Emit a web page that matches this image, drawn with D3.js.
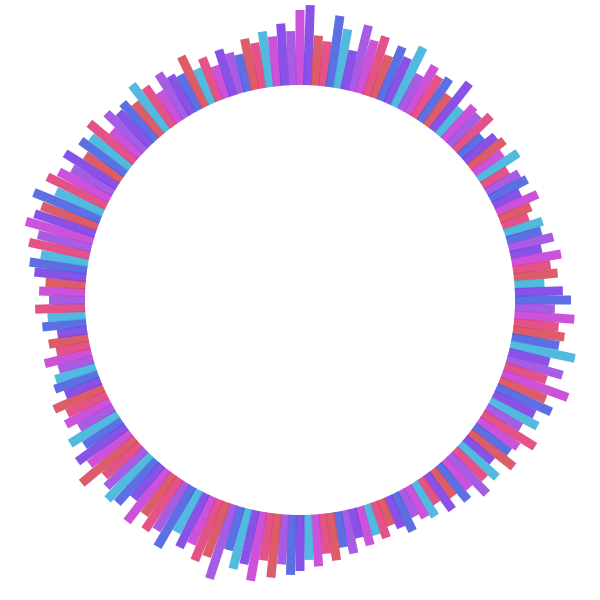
<!DOCTYPE html>
<html>
<head>
<script src="https://cdn.jsdelivr.net/npm/d3@7"></script>
<style>body{margin:0;background:#fff}</style>
</head>
<body>
<div id="chart"></div>
<script>
// bar lengths (px beyond inner circle), clockwise from 12 o'clock
var lengths = [75,80,50,45,72,60,40,68,55,62,45,58,50,66,40,55,48,52,38,60,
  35,45,42,50,30,40,44,35,48,30,38,42,30,45,34,28,40,36,46,32,
  50,38,44,30,48,56,40,60,45,52,48,66,42,58,44,70,50,60,46,54,
  40,62,48,44,56,36,50,42,54,38,46,34,44,30,40,36,30,42,34,28,
  38,32,40,30,44,36,48,40,52,45,56,60,50,64,48,70,55,62,45,78,
  58,66,52,60,48,70,56,62,50,66,44,58,62,54,48,70,52,60,45,56,
  40,50,44,54,38,46,42,36,48,34,40,30,44,38,50,36,46,40,52,58,
  48,62,55,70,64,60,72,52,66,58,48,62,44,56,50,60,38,54,46,50,
  42,58,48,36,52,44,40,56,38,46,34,48,42,38,52,46,56,50,62,54];
// colour index for each bar into the palette
var colorIdx = [3,0,5,1,2,4,0,6,3,1,5,2,0,4,6,3,1,2,5,0,
  4,3,6,1,2,0,5,3,4,1,6,2,0,3,5,1,4,2,6,0,
  3,1,5,4,0,2,6,3,1,5,2,4,0,6,1,3,5,2,0,4,
  6,1,3,2,5,0,4,1,6,3,2,5,0,1,4,3,6,2,0,5,
  1,4,3,0,6,2,5,1,3,4,0,2,6,5,1,3,0,4,2,6,
  5,1,3,0,4,2,6,1,5,3,0,2,4,6,1,5,3,0,2,4,
  6,3,1,5,0,2,4,6,3,1,5,0,2,4,1,6,3,5,0,2,
  4,1,6,3,0,5,2,4,1,3,6,0,5,2,4,1,3,6,0,2,
  5,4,1,3,6,0,2,5,4,1,3,0,6,2,5,1,4,3,0,6];
var palette = ["#7b3fe4","#e0407a","#4a5fe0","#c63fd6","#3fb3dc","#d94a5a","#9c4be0"];

var width = 600, height = 600, innerR = 215;
var svg = d3.select("#chart").append("svg").attr("width", width).attr("height", height);
var g = svg.append("g").attr("transform", "translate(300,300)");

var angle = d3.scaleBand().domain(d3.range(lengths.length)).range([0, 360]);
var len = d3.scaleLinear().domain([0, 80]).range([0, 80]);
var barW = 9;

g.selectAll("rect").data(lengths).enter().append("rect")
  .attr("x", -barW / 2)
  .attr("y", function (d) { return -innerR - len(d); })
  .attr("width", barW)
  .attr("height", function (d) { return len(d); })
  .attr("fill", function (d, i) { return palette[colorIdx[i]]; })
  .attr("opacity", 0.9)
  .attr("transform", function (d, i) { return "rotate(" + angle(i) + ")"; });
</script>
</body>
</html>
